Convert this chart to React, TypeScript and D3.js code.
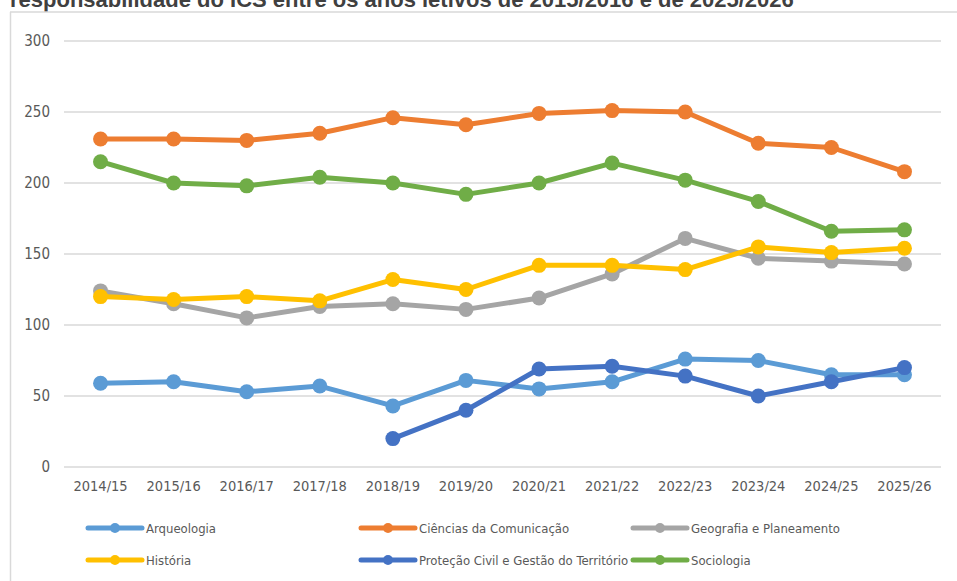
import React from "react";
import * as d3 from "d3";

const categories = ["2014/15","2015/16","2016/17","2017/18","2018/19","2019/20","2020/21","2021/22","2022/23","2023/24","2024/25","2025/26"];
const arqueologia = [59,60,53,57,43,61,55,60,76,75,65,65];
const ciencias = [231,231,230,235,246,241,249,251,250,228,225,208];
const geografia = [124,115,105,113,115,111,119,136,161,147,145,143];
const historia = [120,118,120,117,132,125,142,142,139,155,151,154];
const protecao: (number|null)[] = [null,null,null,null,20,40,69,71,64,50,60,70];
const sociologia = [215,200,198,204,200,192,200,214,202,187,166,167];
const yTicks = [0,50,100,150,200,250,300];

const series = [
  { name: "Arqueologia", values: arqueologia, color: "#5B9BD5" },
  { name: "Ciências da Comunicação", values: ciencias, color: "#ED7D31" },
  { name: "Geografia e Planeamento", values: geografia, color: "#A5A5A5" },
  { name: "História", values: historia, color: "#FFC000" },
  { name: "Proteção Civil e Gestão do Território", values: protecao, color: "#4472C4" },
  { name: "Sociologia", values: sociologia, color: "#70AD47" },
];

const title = "responsabilidade do ICS entre os anos letivos de 2015/2016 e de 2025/2026";

export default function App() {
  const W = 957, H = 581;
  const left = 64, right = 941, top = 41, bottom = 467;
  const x = d3.scaleBand<string>().domain(categories).range([left, right]);
  const y = d3.scaleLinear().domain([0, 300]).range([bottom, top]);
  const cx = (c: string) => (x(c) as number) + x.bandwidth() / 2;
  const font = "'DejaVu Sans Condensed', 'DejaVu Sans', sans-serif";
  const line = d3.line<[string, number | null]>()
    .defined(d => d[1] != null)
    .x(d => cx(d[0]))
    .y(d => y(d[1] as number));

  const legendCols = [88, 361, 633];
  const legendRows = [528, 560];

  return (
    <svg width={W} height={H} style={{ position: "absolute", left: 0, top: 0, background: "#fff" }}>
      <rect x={0} y={0} width={W} height={H} fill="#fff" />
      <text x={10} y={6.5} fontFamily="'Liberation Sans', Arial, sans-serif" fontWeight="bold" fontSize={22} fill="#404040">{title}</text>
      <line x1={10.5} y1={12} x2={10.5} y2={H} stroke="#D9D9D9" strokeWidth={1.5} />
      <line x1={10} y1={12} x2={W} y2={12} stroke="#D9D9D9" strokeWidth={1.5} />
      {yTicks.map(t => (
        <g key={t}>
          <line x1={left} x2={right} y1={y(t)} y2={y(t)} stroke="#D9D9D9" strokeWidth={1.5} />
          <text x={50} y={y(t)} dy="0.35em" textAnchor="end" fontFamily={font} fontSize={15} fill="#595959">{t}</text>
        </g>
      ))}
      {categories.map(c => (
        <text key={c} x={cx(c)} y={491} textAnchor="middle" fontFamily={font} fontSize={14.5} fill="#595959">{c}</text>
      ))}
      {series.map(s => {
        const pts = categories.map((c, i) => [c, s.values[i]] as [string, number | null]);
        return (
          <g key={s.name}>
            <path d={line(pts) || ""} fill="none" stroke={s.color} strokeWidth={5} strokeLinejoin="round" strokeLinecap="round" />
            {pts.filter(p => p[1] != null).map(p => (
              <circle key={p[0]} cx={cx(p[0])} cy={y(p[1] as number)} r={7.5} fill={s.color} />
            ))}
          </g>
        );
      })}
      {series.map((s, i) => {
        const lx = legendCols[i % 3];
        const ly = legendRows[Math.floor(i / 3)];
        return (
          <g key={"lg" + s.name}>
            <line x1={lx} x2={lx + 54} y1={ly} y2={ly} stroke={s.color} strokeWidth={5} strokeLinecap="round" />
            <circle cx={lx + 27} cy={ly} r={5} fill={s.color} />
            <text x={lx + 58} y={ly} dy="0.35em" fontFamily={font} fontSize={13} fill="#595959">{s.name}</text>
          </g>
        );
      })}
    </svg>
  );
}
